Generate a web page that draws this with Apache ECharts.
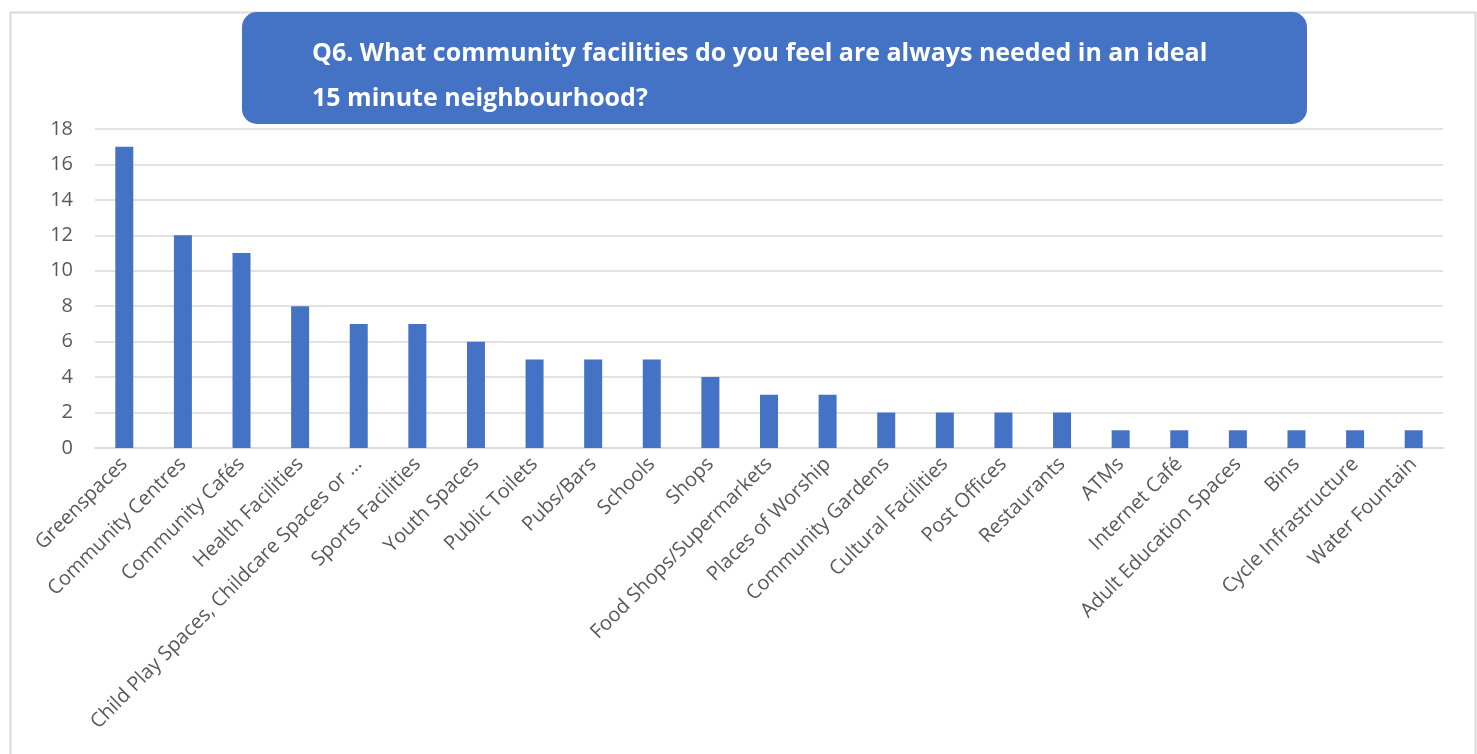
<!DOCTYPE html>
<html>
<head>
<meta charset="utf-8">
<style>
  html, body { margin: 0; padding: 0; background: #ffffff; }
  #chart { width: 1477px; height: 754px; }
</style>
<script src="https://cdn.jsdelivr.net/npm/echarts@6/dist/echarts.min.js"></script>
</head>
<body>
<div id="chart"></div>
<script>
// Facilities named by respondents, in descending order of mentions
const categories = [
  'Greenspaces', 'Community Centres', 'Community Cafés', 'Health Facilities',
  'Child Play Spaces, Childcare Spaces or …', 'Sports Facilities', 'Youth Spaces',
  'Public Toilets', 'Pubs/Bars', 'Schools', 'Shops', 'Food Shops/Supermarkets',
  'Places of Worship', 'Community Gardens', 'Cultural Facilities', 'Post Offices',
  'Restaurants', 'ATMs', 'Internet Café', 'Adult Education Spaces', 'Bins',
  'Cycle Infrastructure', 'Water Fountain'
];
const mentions = [17, 12, 11, 8, 7, 7, 6, 5, 5, 5, 4, 3, 3, 2, 2, 2, 2, 1, 1, 1, 1, 1, 1];
const titleLines = [
  'Q6. What community facilities do you feel are always needed in an ideal',
  '15 minute neighbourhood?'
];

const FONT = '"Open Sans", "Noto Sans", sans-serif';
const chart = echarts.init(document.getElementById('chart'));

chart.setOption({
  backgroundColor: '#ffffff',
  animation: false,
  grid: { left: 95, right: 34, top: 129, bottom: 306, containLabel: false },
  xAxis: {
    type: 'category',
    data: categories,
    axisLine: { show: true, lineStyle: { color: '#d9d9d9', width: 1.5 } },
    axisTick: { show: false },
    axisLabel: {
      interval: 0,
      rotate: 45,
      color: '#595959',
      fontFamily: FONT,
      fontSize: 20,
      margin: 13
    }
  },
  yAxis: {
    type: 'value',
    min: 0,
    max: 18,
    interval: 2,
    axisLine: { show: false },
    axisTick: { show: false },
    splitLine: { lineStyle: { color: '#d9d9d9', width: 1.5 } },
    axisLabel: { color: '#595959', fontFamily: FONT, fontSize: 20, margin: 22 }
  },
  series: [{
    type: 'bar',
    data: mentions,
    barWidth: 18,
    itemStyle: { color: '#4472C4' }
  }],
  graphic: [
    {
      type: 'rect',
      left: 8, top: 10,
      shape: { width: 1465, height: 760 },
      style: { fill: 'none', stroke: '#d9d9d9', lineWidth: 2 },
      silent: true
    },
    {
      type: 'rect',
      left: 242, top: 12,
      shape: { width: 1065, height: 112, r: 15 },
      style: { fill: '#4472C4' },
      z: 10
    },
    {
      type: 'text',
      left: 312, top: 31,
      style: {
        text: titleLines.join('\n'),
        fill: '#ffffff',
        font: 'bold 25px ' + FONT,
        lineHeight: 45
      },
      z: 11
    }
  ]
});
</script>
</body>
</html>
